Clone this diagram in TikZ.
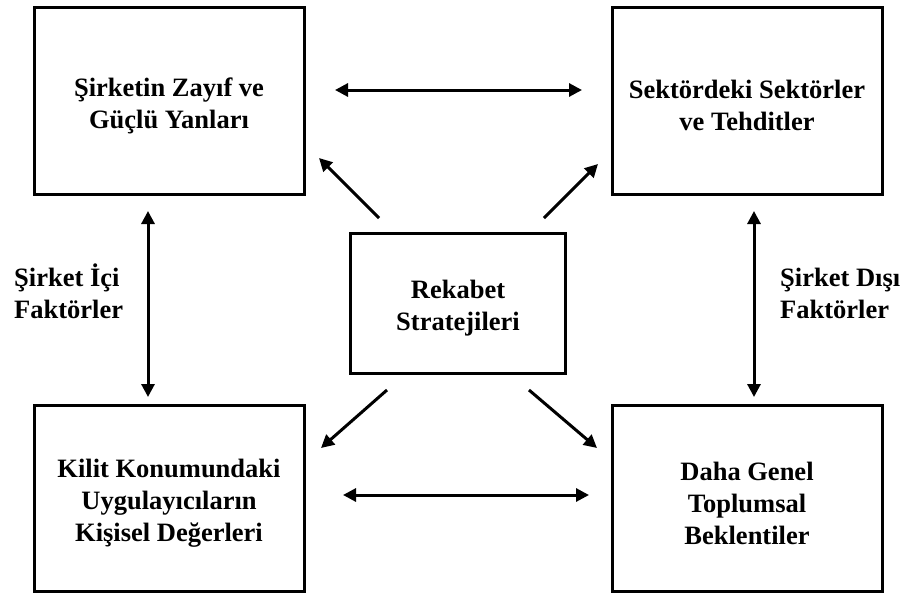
\documentclass[tikz,border=0pt]{standalone}
\usepackage{fontspec}
\setmainfont{Liberation Serif}
\usetikzlibrary{arrows.meta}
\begin{document}
\begin{tikzpicture}[x=1pt,y=-1pt,
  txt/.style={font=\fontsize{26.5}{32}\selectfont\bfseries},
  box/.style={draw, line width=3pt, minimum width=270pt, minimum height=187pt, inner sep=0pt},
  boxtext/.style={txt, align=center, inner sep=0pt, yshift=-5pt},
  link/.style={line width=3pt, -{Triangle[length=13pt,width=13pt]}},
  twoway/.style={line width=3pt, {Triangle[length=13pt,width=13pt]}-{Triangle[length=13pt,width=13pt]}},
  side/.style={txt, align=left, inner sep=0pt, anchor=base west}]
\useasboundingbox (0,0) rectangle (903,598);

% boxes
\node[box] (strengths) at (169,100.5) {};
\node[box] (sector) at (747,100.5) {};
\node[box, minimum width=215pt, minimum height=140pt] (strategy) at (458,303.5) {};
\node[box, minimum height=186pt] (values) at (169,498) {};
\node[box, minimum height=186pt] (society) at (747,498) {};

% box captions
\node[boxtext] (strengthsText) at (strengths.center) {Şirketin Zayıf ve\\Güçlü Yanları};
\node[boxtext] (sectorText) at (sector.center) {Sektördeki Sektörler\\ve Tehditler};
\node[boxtext] (strategyText) at (strategy.center) {Rekabet\\Stratejileri};
\node[boxtext] (valuesText) at (values.center) {Kilit Konumundaki\\Uygulayıcıların\\Kişisel Değerleri};
\node[boxtext] (societyText) at (society.center) {Daha Genel\\Toplumsal\\Beklentiler};

% side labels (base = last line)
\node[side] (inner) at (14,318) {Şirket İçi\\Faktörler};
\node[side] (outer) at (780,318) {Şirket Dışı\\Faktörler};

% arrow end points
\coordinate (topL) at (335,90);   \coordinate (topR) at (582,90);
\coordinate (botL) at (343,495);  \coordinate (botR) at (589,495);
\coordinate (leftT) at (148,211); \coordinate (leftB) at (148,397);
\coordinate (rightT) at (754,211);\coordinate (rightB) at (754,397);
\coordinate (s1) at (379,218); \coordinate (e1) at (319,158);
\coordinate (s2) at (544,218); \coordinate (e2) at (598,164);
\coordinate (s3) at (387,390); \coordinate (e3) at (321,448);
\coordinate (s4) at (529,390); \coordinate (e4) at (597,448);

% two-way arrows
\draw[twoway] (topL) -- (topR);
\draw[twoway] (botL) -- (botR);
\draw[twoway] (leftT) -- (leftB);
\draw[twoway] (rightT) -- (rightB);

% arrows out of the centre box
\draw[link] (s1) -- (e1);
\draw[link] (s2) -- (e2);
\draw[link] (s3) -- (e3);
\draw[link] (s4) -- (e4);
\end{tikzpicture}
\end{document}
